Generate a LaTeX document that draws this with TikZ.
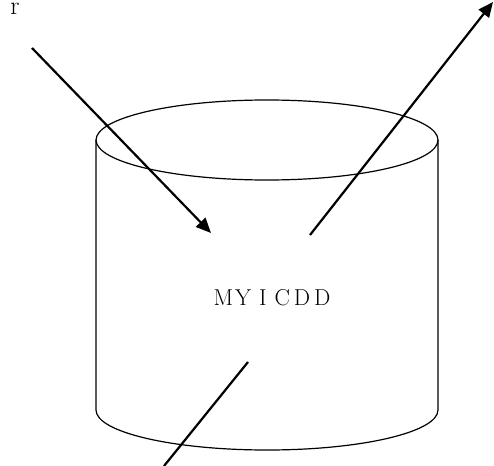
\documentclass[tikz,border=0pt]{standalone}
\usetikzlibrary{arrows.meta}
\begin{document}
\begin{tikzpicture}[x=1pt,y=-1pt,
  edge/.style={line width=2.2pt},
  arr/.style={edge,-{Triangle[length=15pt,width=13pt]}},
  outline/.style={line width=1.2pt}]
\useasboundingbox (0,0) rectangle (494,465);
% cylinder
\draw[outline] (267,140) ellipse [x radius=171, y radius=40];
\draw[outline] (96,140) -- (96,410) arc [start angle=180,end angle=360,x radius=171,y radius=-40] -- (438,140);
\node[font=\fontsize{23}{25}\selectfont] (lbl) at (272,298) {M\kern2pt Y\kern8pt I\kern8pt C\kern4pt D\kern4pt D};
\node[font=\fontsize{26}{28}\selectfont,anchor=base,inner sep=0pt] (r) at (15,15) {r};
\coordinate (a1s) at (32,48);
\coordinate (a1e) at (211,233);
\coordinate (a2s) at (310,235);
\coordinate (a2e) at (493,2);
\coordinate (l3s) at (248,362);
\coordinate (l3e) at (164,466);
\draw[arr] (a1s) -- (a1e);
\draw[arr] (a2s) -- (a2e);
\draw[edge] (l3s) -- (l3e);
\end{tikzpicture}
\end{document}
